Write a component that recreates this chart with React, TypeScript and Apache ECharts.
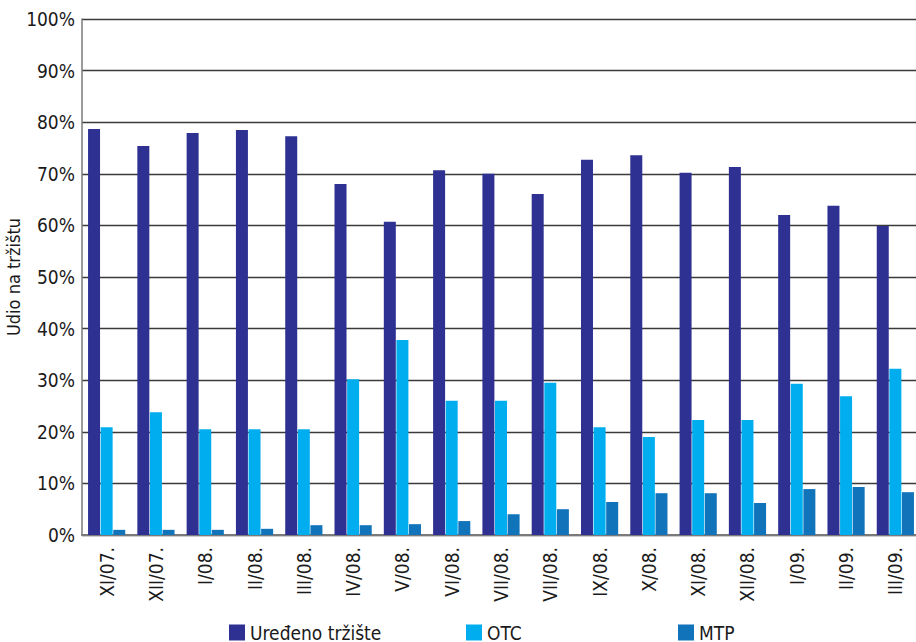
import React, { useEffect, useRef } from "react";
import * as echarts from "echarts";

const categories = [
  "XI/07.", "XII/07.", "I/08.", "II/08.", "III/08.", "IV/08.", "V/08.", "VI/08.", "VII/08.",
  "VII/08.", "IX/08.", "X/08.", "XI/08.", "XII/08.", "I/09.", "II/09.", "III/09.",
];
const uredenoTrziste = [78.7, 75.4, 77.9, 78.5, 77.3, 68.0, 60.7, 70.7, 70.0, 66.1, 72.7, 73.6, 70.2, 71.3, 62.0, 63.8, 59.9];
const otc = [20.9, 23.8, 20.5, 20.5, 20.5, 30.2, 37.8, 26.0, 26.0, 29.5, 20.9, 19.0, 22.3, 22.3, 29.3, 26.9, 32.2];
const mtp = [1.0, 1.0, 1.0, 1.2, 1.9, 1.9, 2.1, 2.7, 4.0, 5.0, 6.4, 8.1, 8.1, 6.2, 8.9, 9.3, 8.3];
const seriesNames = ["Uređeno tržište", "OTC", "MTP"];
const yAxisName = "Udio na tržištu";

const FONT = "'Liberation Sans Narrow', 'DejaVu Sans Condensed', 'Roboto Condensed', sans-serif";
const COLORS = ["#2E3192", "#00AEEF", "#1173BA"];

export default function App() {
  const ref = useRef<HTMLDivElement>(null);
  useEffect(() => {
    if (!ref.current) return;
    const chart = echarts.init(ref.current, null, { renderer: "svg" });
    const legendLefts = [224, 461, 673];
    chart.setOption({
      animation: false,
      textStyle: { fontFamily: FONT },
      legend: seriesNames.map((n, i) => ({
        data: [n],
        left: legendLefts[i],
        top: 618,
        itemWidth: 16,
        itemHeight: 16,
        itemGap: 8,
        icon: "rect",
        textStyle: { fontFamily: FONT, fontSize: 19, color: "#1a1a1a" },
      })),
      grid: { left: 82, top: 19, bottom: 107, width: 838, outerBoundsMode: "none", containLabel: false },
      xAxis: {
        type: "category",
        data: categories,
        axisLine: { lineStyle: { color: "#7a7a7a", width: 2 } },
        axisTick: { show: false },
        axisLabel: { rotate: 90, margin: 12, fontSize: 19, color: "#1a1a1a", fontFamily: FONT, interval: 0 },
      },
      yAxis: {
        type: "value",
        min: 0,
        max: 100,
        interval: 10,
        name: yAxisName,
        nameLocation: "middle",
        nameGap: 60,
        nameMoveOverlap: false,
        nameTextStyle: { fontSize: 18, color: "#1a1a1a", fontFamily: FONT },
        axisLine: { show: true, lineStyle: { color: "#7a7a7a", width: 1.5 } },
        axisTick: { show: false },
        axisLabel: { formatter: "{value}%", fontSize: 19, color: "#1a1a1a", fontFamily: FONT, margin: 7 },
        splitLine: { lineStyle: { color: "#3a3a3a", width: 1.3 } },
      },
      series: [uredenoTrziste, otc, mtp].map((d, i) => ({
        type: "bar",
        name: seriesNames[i],
        data: d,
        barWidth: 12,
        barGap: "5%",
        itemStyle: { color: COLORS[i] },
      })),
    });
    return () => chart.dispose();
  }, []);
  return (
    <div
      ref={ref}
      style={{ position: "fixed", left: 0, top: 0, width: 916, height: 642, background: "#fff" }}
    />
  );
}
